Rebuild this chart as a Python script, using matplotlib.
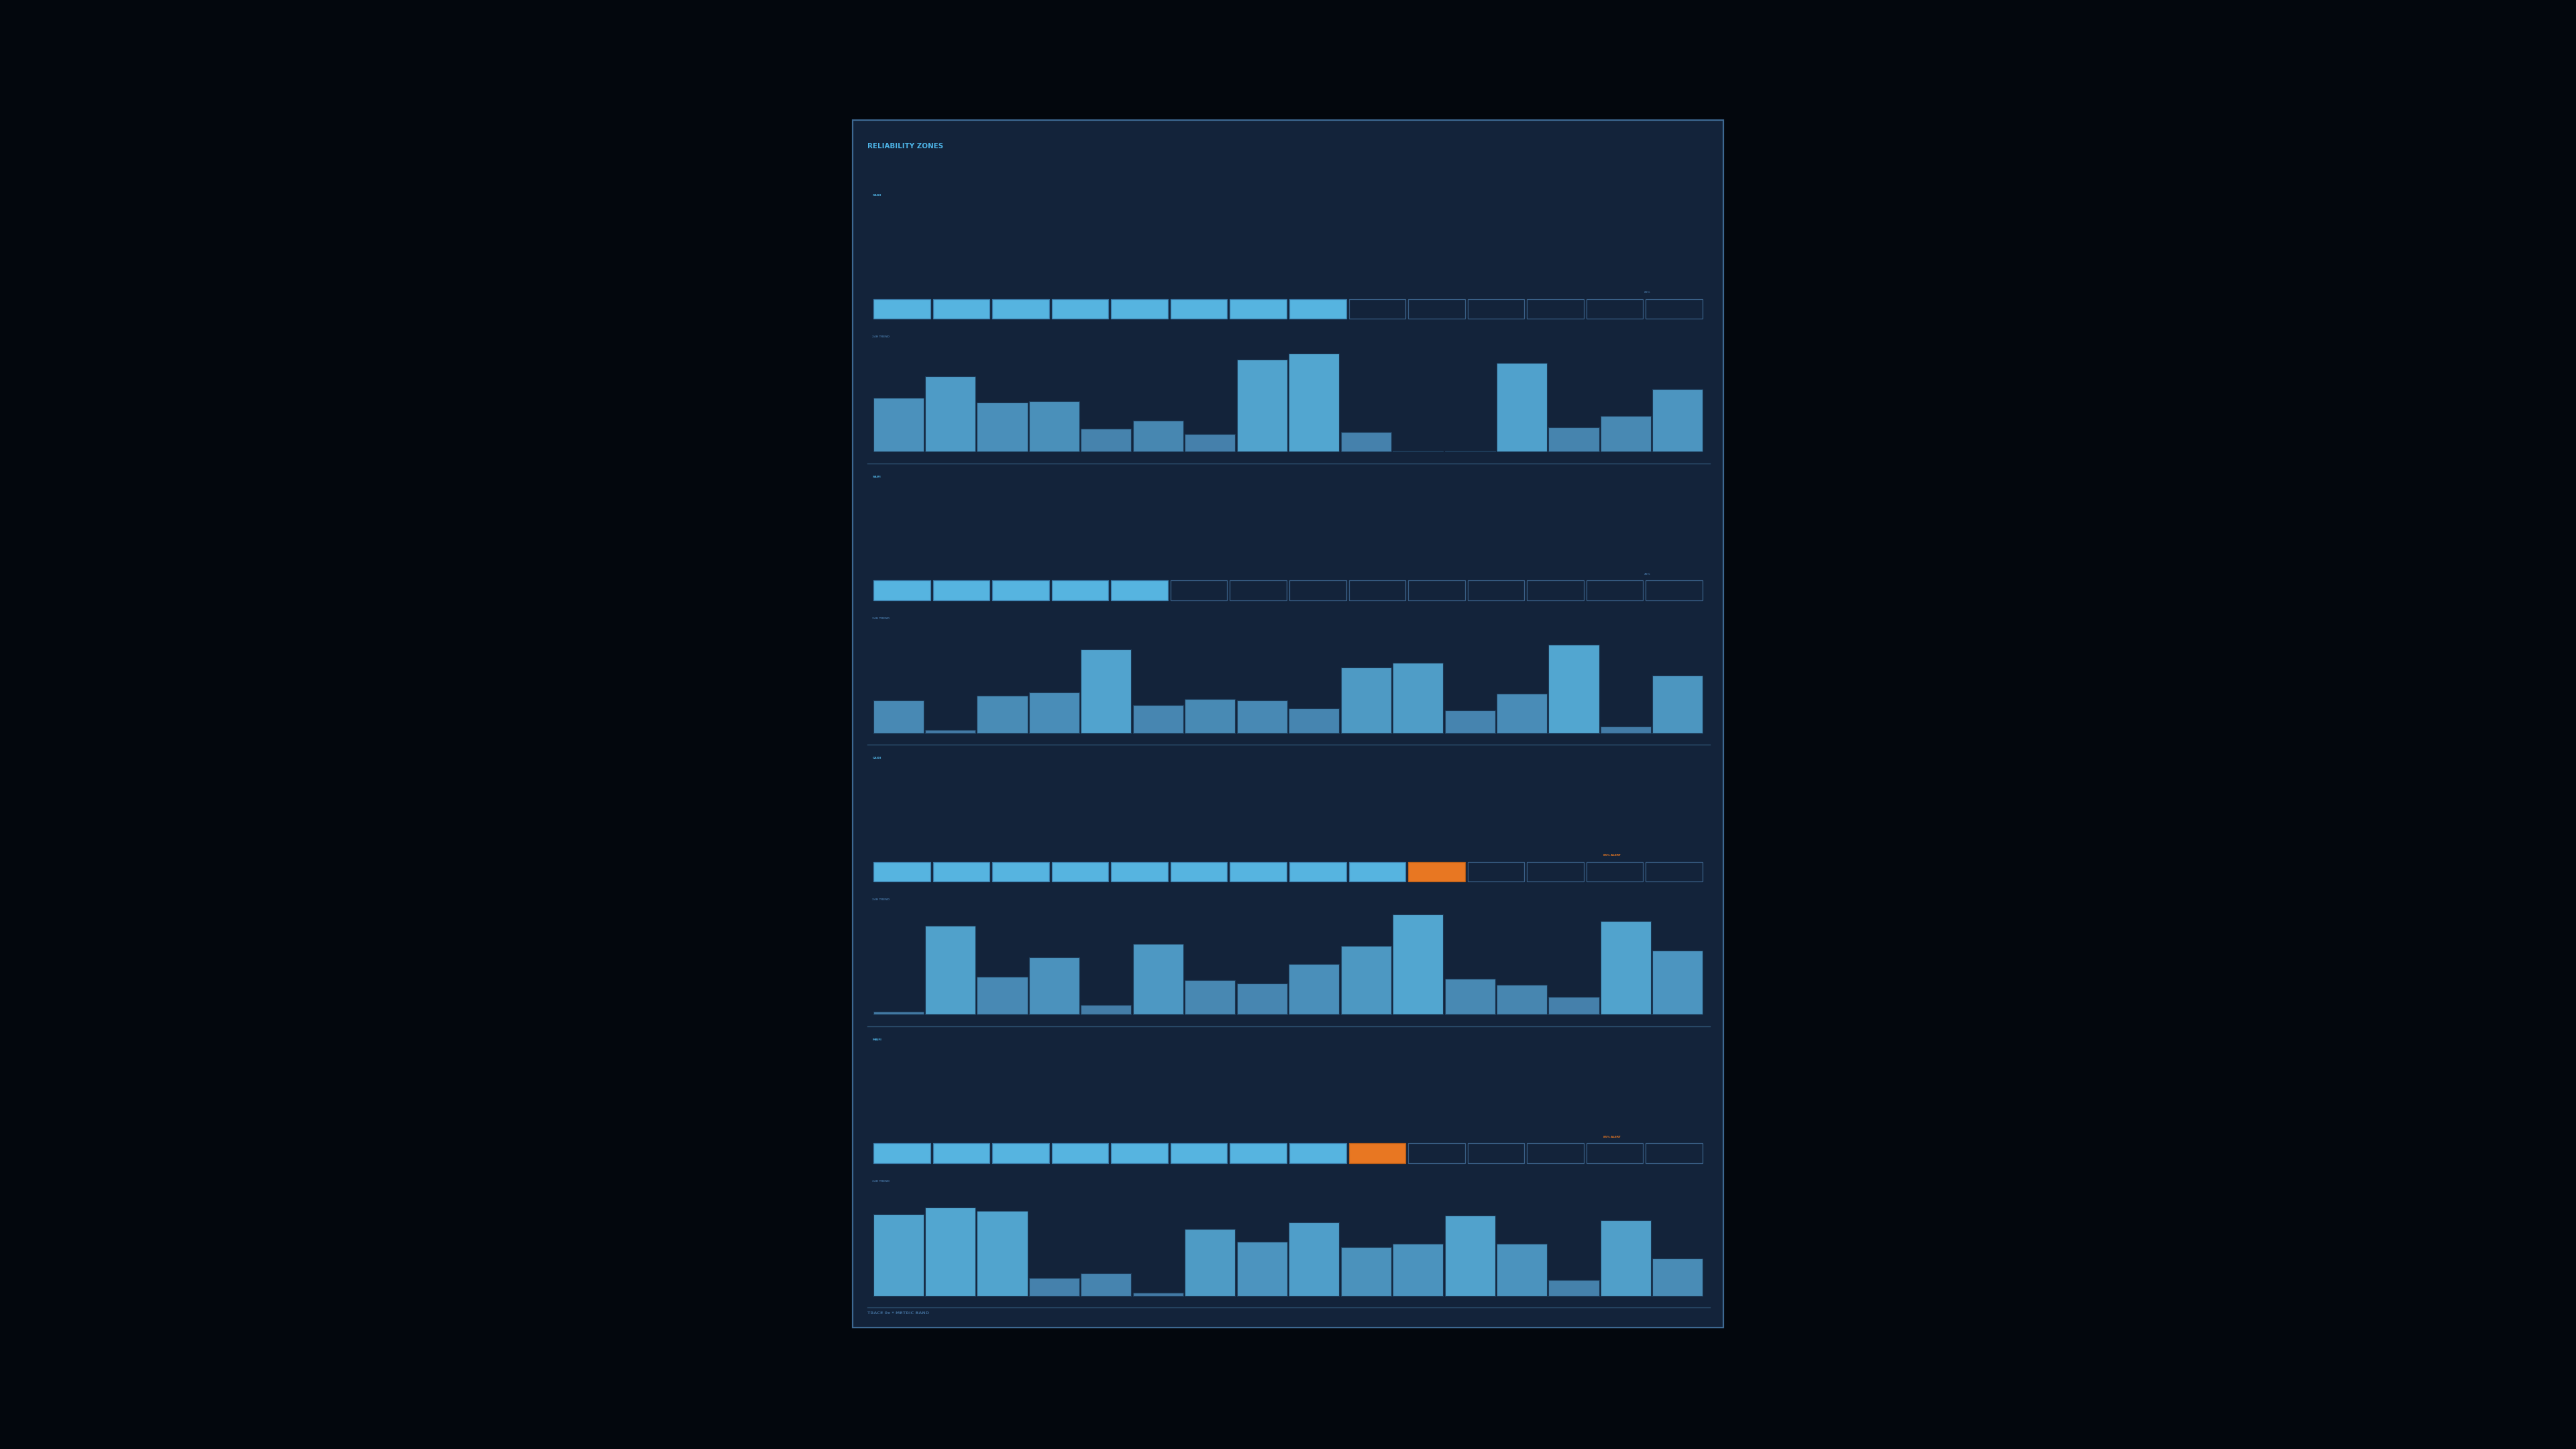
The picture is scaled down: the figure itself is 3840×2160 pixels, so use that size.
import matplotlib.pyplot as plt
from matplotlib.patches import Rectangle
from matplotlib.colors import to_rgb
import numpy as np

# data
metrics = ["SAIDI", "SAIFI", "CAIDI", "MAIFI"]
filled_segments = [8, 5, 9, 8]
alert_segment = [None, None, 9, 8]
marker_pos = [12.55, 12.55, 11.95, 11.95]
marker_text = ["65%", "45%", "85% ALERT", "85% ALERT"]
trend_saidi = [33, 46, 30, 31, 14, 19, 11, 56, 60, 12, 0.8, 0.5, 54, 15, 22, 38]
trend_saifi = [20, 2, 23, 25, 51, 17, 21, 20, 15, 40, 43, 14, 24, 54, 4, 35]
trend_caidi = [2, 54, 23, 35, 6, 43, 21, 19, 31, 42, 61, 22, 18, 11, 57, 39]
trend_maifi = [50, 54, 52, 11, 14, 2, 41, 33, 45, 30, 32, 49, 32, 10, 46, 23]
trends = [trend_saidi, trend_saifi, trend_caidi, trend_maifi]
n_segments = 14

BG = "#03070d"
PANEL = "#13233a"
BORDER = "#3d6891"
CYAN = "#56b4e0"
MUTED = "#3f6a95"
ORANGE = "#e87722"
EMPTY_EDGE = "#3a6087"
LOW = np.array(to_rgb("#4278a3"))
HIGH = np.array(to_rgb("#52a6d0"))

W, H = 1568.0, 882.0


def fx(x):
    return x / W


def fy(y):
    return 1 - y / H


fig = plt.figure(figsize=(38.4, 21.6), dpi=100, facecolor=BG)

fig.patches.append(Rectangle((fx(519), fy(808)), fx(1049) - fx(519), fy(73) - fy(808),
                             transform=fig.transFigure, facecolor=PANEL,
                             edgecolor=BORDER, linewidth=1.6, zorder=-5))

fig.text(fx(528), fy(89), "RELIABILITY ZONES", color="#4db3e6", fontsize=7.4,
         fontweight="heavy", va="center", ha="left")

step = 171.3
for i, name in enumerate(metrics):
    off = i * step
    fig.text(fx(531), fy(119 + off), name, color="#4fb0e0", fontsize=3.2,
             fontweight="bold", va="center", ha="left")

    # segment row
    ax = fig.add_axes([fx(531), fy(194 + off), fx(1037) - fx(531), fy(182) - fy(194)])
    ax.set_facecolor("none")
    for k in range(n_segments):
        if k < filled_segments[i]:
            fc, ec = CYAN, "#3a7aa8"
        elif alert_segment[i] is not None and k == alert_segment[i]:
            fc, ec = ORANGE, "#b85e1a"
        else:
            fc, ec = PANEL, EMPTY_EDGE
        ax.bar(k, 1, width=0.955, bottom=0, color=fc, edgecolor=ec,
               linewidth=0.9, clip_on=False)
    ax.set_xlim(-0.5, n_segments - 0.5)
    ax.set_ylim(0, 1)
    ax.axis("off")
    is_alert = "ALERT" in marker_text[i]
    ax.text(marker_pos[i], 1.25, marker_text[i], color=ORANGE if is_alert else MUTED,
            fontsize=3, fontweight="bold", ha="center", va="bottom")

    fig.text(fx(531), fy(205 + off), "24H TREND", color=MUTED, fontsize=3,
             fontweight="bold", va="center", ha="left")

    # trend bars
    vals = np.array(trends[i])
    bx = fig.add_axes([fx(531), fy(275 + off), fx(1037) - fx(531), fy(213) - fy(275)])
    bx.set_facecolor("none")
    t = np.clip(vals / vals.max(), 0, 1)
    colors = [tuple(LOW + (HIGH - LOW) * v) for v in t]
    bx.bar(np.arange(len(vals)), vals, width=0.97, color=colors,
           edgecolor="#1d3a57", linewidth=0.8, clip_on=False)
    bx.set_xlim(-0.5, len(vals) - 0.5)
    bx.set_ylim(0, 62)
    bx.axis("off")

    # separator
    ysep = 282 + off if i < 3 else 796
    fig.add_artist(plt.Line2D([fx(528), fx(1041)], [fy(ysep), fy(ysep)],
                              transform=fig.transFigure, color="#2f5373", linewidth=1.0))

fig.text(fx(528), fy(799.5), "TRACE 0x * METRIC BAND", color=MUTED, fontsize=4.6,
         fontweight="bold", va="center", ha="left")

fig.savefig("out.png", dpi=100, facecolor=BG)
